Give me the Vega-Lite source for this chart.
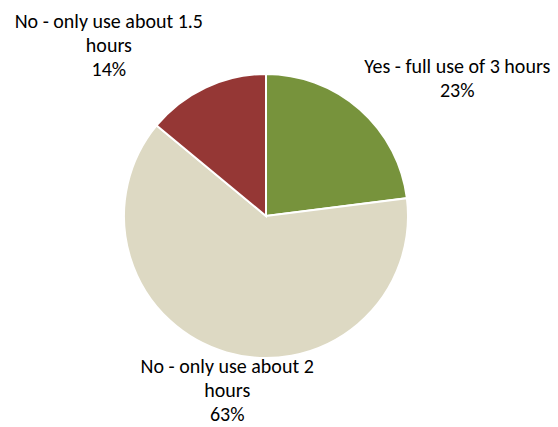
{
  "$schema": "https://vega.github.io/schema/vega-lite/v6.json",
  "autosize": "none",
  "width": 532,
  "height": 422,
  "padding": {"left": 0, "right": 26, "top": 5, "bottom": 0},
  "background": "white",
  "config": {"view": {"stroke": null}},
  "data": {
    "values": [
      {"category": "Yes - full use of 3 hours", "label": "Yes - full use of 3 hours\n23%", "value": 23, "order": 1},
      {"category": "No - only use about 2 hours", "label": "No - only use about 2\nhours\n63%", "value": 63, "order": 2},
      {"category": "No - only use about 1.5 hours", "label": "No - only use about 1.5\nhours\n14%", "value": 14, "order": 3}
    ]
  },
  "encoding": {
    "theta": {"field": "value", "type": "quantitative", "stack": true},
    "order": {"field": "order", "type": "quantitative"}
  },
  "layer": [
    {
      "mark": {"type": "arc", "outerRadius": 142, "stroke": "white", "strokeWidth": 2},
      "encoding": {
        "color": {
          "field": "category",
          "type": "nominal",
          "scale": {
            "domain": ["Yes - full use of 3 hours", "No - only use about 2 hours", "No - only use about 1.5 hours"],
            "range": ["#77933C", "#DDD9C3", "#953735"]
          },
          "legend": null
        }
      }
    },
    {
      "mark": {"type": "text", "radius": 200, "dx": 59, "dy": 1, "lineBreak": "\n", "lineHeight": 24, "font": "Carlito, Lato", "fontSize": 20, "color": "#000000", "align": "center", "baseline": "middle"},
      "encoding": {
        "text": {"condition": {"test": "datum.order === 1", "field": "label"}, "value": ""}
      }
    },
    {
      "mark": {"type": "text", "radius": 200, "dx": 17, "dy": -41, "lineBreak": "\n", "lineHeight": 24, "font": "Carlito, Lato", "fontSize": 20, "color": "#000000", "align": "center", "baseline": "middle"},
      "encoding": {
        "text": {"condition": {"test": "datum.order === 2", "field": "label"}, "value": ""}
      }
    },
    {
      "mark": {"type": "text", "radius": 200, "dx": -72, "dy": -13, "lineBreak": "\n", "lineHeight": 24, "font": "Carlito, Lato", "fontSize": 20, "color": "#000000", "align": "center", "baseline": "middle"},
      "encoding": {
        "text": {"condition": {"test": "datum.order === 3", "field": "label"}, "value": ""}
      }
    }
  ]
}
